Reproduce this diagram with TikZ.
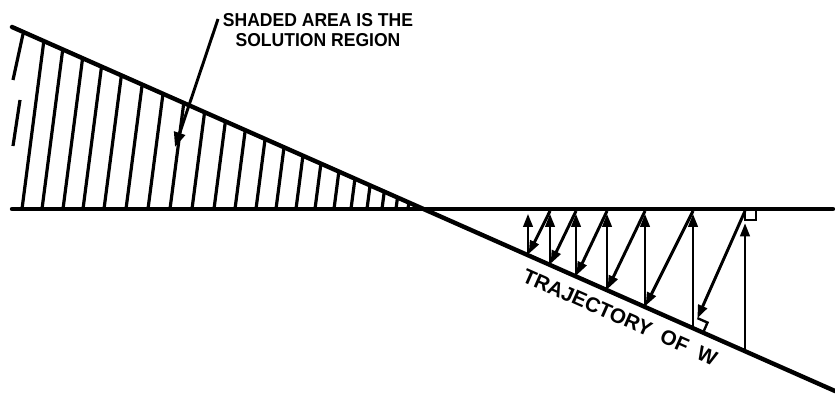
\documentclass[tikz,border=0pt]{standalone}
\usepackage{fontspec}
\setsansfont{Liberation Sans}
\usetikzlibrary{arrows.meta}

\begin{document}
\begin{tikzpicture}[x=0.75pt, y=-0.75pt,
    mainline/.style={line width=3.3pt, line cap=round},
    hatch/.style={line width=2.4pt},
    vec/.style={-{Triangle[length=10pt, width=7pt]}, line width=2.2pt},
    pointer/.style={-{Triangle[length=11pt, width=8.5pt]}, line width=2.2pt},
    rmark/.style={line width=1.8pt},
    lettering/.style={font=\sffamily\bfseries\fontsize{14}{15.5}\selectfont, inner sep=0pt}
]
\useasboundingbox (0,0) rectangle (835,395);

% Rectas
\coordinate (hl) at (12,209);
\coordinate (hr) at (833,209);
\coordinate (sl) at (12,27);
\coordinate (sr) at (835,391);
\draw[mainline] (hl) -- (hr);
\draw[mainline] (sl) -- (sr);

% Sombreado
\draw[hatch] (23,34) -- (13,80);
\draw[hatch] (20,100) -- (13,146);
\foreach \b in {22,42,63,83,104,126,148,170,192,214,235,256,276,296,315,334,351,367,382,396,408} {
  \pgfmathsetmacro\yt{(27+0.44228*(\b-12)+0.44228*0.13*209)/(1+0.44228*0.13)}
  \pgfmathsetmacro\xt{\b+0.13*(209-\yt)}
  \draw[hatch] (\b,209) -- (\xt,\yt);
}

% Puntos de la trayectoria
\coordinate (w0) at (745,351.2);
\coordinate (w1) at (693,328.2);
\coordinate (w2) at (645,307.0);
\coordinate (w3) at (607,290.2);
\coordinate (w4) at (576,276.4);
\coordinate (w5) at (550,265.0);
\coordinate (w6) at (528,255.2);
\coordinate (p0) at (745,211);
\coordinate (p1) at (693,211);
\coordinate (p2) at (645,211);
\coordinate (p3) at (607,211);
\coordinate (p4) at (576,211);
\coordinate (p5) at (550,211);
\coordinate (p6) at (528,211);

% Flechas
\draw[vec, shorten >=9pt] (w0) -- (p0);
\draw[vec, shorten >=8pt] (p0) -- (w1);
\draw[vec, shorten >=2pt] (w1) -- (p1);
\draw[vec, shorten >=1pt] (p1) -- (w2);
\draw[vec, shorten >=2pt] (w2) -- (p2);
\draw[vec, shorten >=1pt] (p2) -- (w3);
\draw[vec, shorten >=2pt] (w3) -- (p3);
\draw[vec, shorten >=1pt] (p3) -- (w4);
\draw[vec, shorten >=2pt] (w4) -- (p4);
\draw[vec, shorten >=1pt] (p4) -- (w5);
\draw[vec, shorten >=2pt] (w5) -- (p5);
\draw[vec, shorten >=1pt] (p5) -- (w6);
\draw[vec, shorten >=2pt] (w6) -- (p6);

% Angulos rectos
\draw[rmark] (745,209) -- (745,220) -- (756,220) -- (756,209);
\begin{scope}[shift={(w1)}, rotate=-23.85]
\draw[rmark] (11,0) -- (11,-11) -- (0,-11);
\end{scope}

% Textos
\node[lettering, align=center, anchor=north, xscale=0.94, transform shape] (note) at (318,13) {SHADED AREA IS THE\\SOLUTION REGION};
\coordinate (lead) at (218,19);
\coordinate (tip) at (175,147);
\draw[pointer] (lead) -- (tip);
\node[lettering, font=\sffamily\bfseries\fontsize{15.5}{16}\selectfont, rotate=-23.85] (traj) at (620,317) {TRAJECTORY\ \ OF\ \ W};

\end{tikzpicture}
\end{document}
